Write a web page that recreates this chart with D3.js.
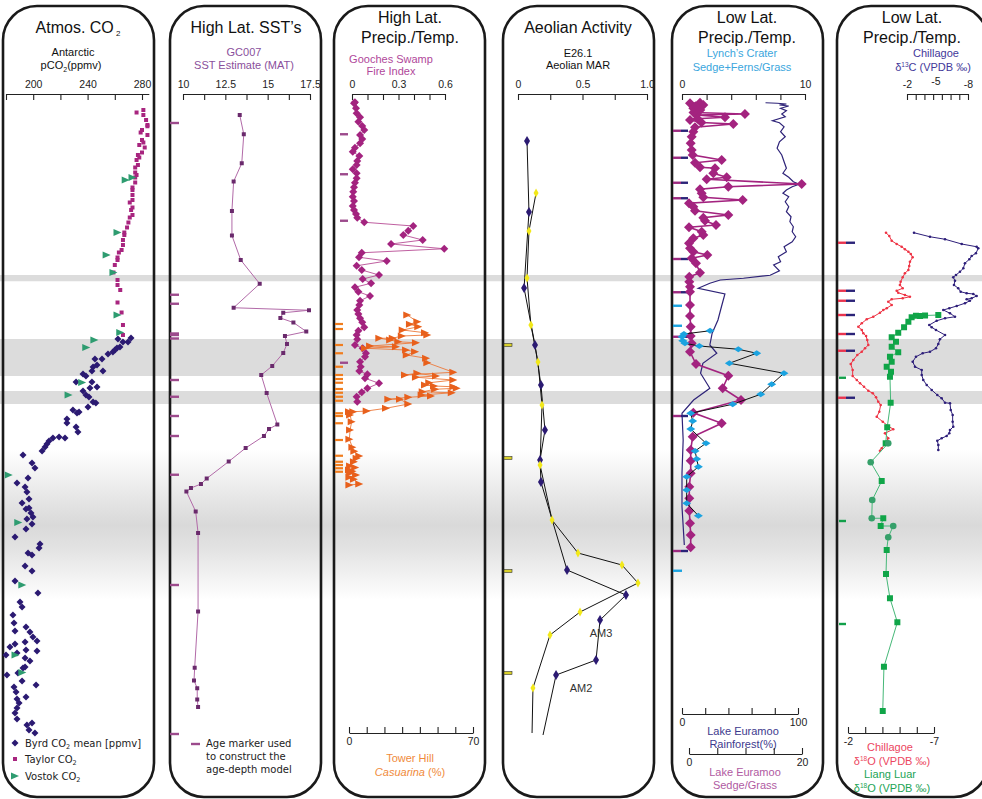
<!DOCTYPE html>
<html>
<head>
<meta charset="utf-8">
<script src="https://cdn.jsdelivr.net/npm/d3@7"></script>
<style>
body { margin: 0; background: #fff; }
svg { display: block; font-family: "Liberation Sans", Arial, sans-serif; }
.legend { font-family: "DejaVu Sans", Verdana, sans-serif; font-size: 10px; fill: #222; }
</style>
</head>
<body>
<svg id="chart" width="982" height="799"></svg>
<script>
// ages in ka, shared vertical axis
var grayBands = [[17.0, 17.25], [19.56, 21.04], [21.64, 22.16]];
var lgmBand = [24.0, 30.0];

// Atmos CO2 [ppmv, ka]
var taylorCO2 = [[276,10.5],[281,10.4],[281,10.6],[283,10.8],[284,11.0],[284,11.05],[280,11.2],[279,11.3],[284,11.4],[280,11.6],[281,11.7],[278,11.8],[282,11.9],[280,12.1],[277,12.2],[278,12.3],[276,12.4],[277,12.6],[275,12.7],[275,12.9],[276,13.0],[275,13.1],[275,13.3],[273,13.5],[273,13.6],[273,13.8],[273,14.0],[271,14.1],[273,14.3],[272,14.4],[273,14.6],[271,14.7],[270,14.9],[269,15.1],[267,15.3],[267,15.4],[266,15.6],[266,15.8],[265,16.0],[263,16.1],[262,16.3],[262,16.4],[260,16.6],[259,16.9],[262,17.2],[262,17.4],[264,17.6],[262,18.1],[265,18.5],[266,19.0],[266,19.4]];
var byrdCO2 = [[271.9,19.52],[269.7,19.68],[266.0,19.68],[263.8,19.88],[261.6,19.92],[260.1,20.0],[258.6,20.08],[255.0,20.16],[262.3,19.56],[250.6,20.36],[245.4,20.36],[246.9,20.6],[244.0,20.68],[251.3,20.84],[243.2,20.84],[236.6,20.96],[238.8,21.04],[231.5,21.28],[243.2,21.28],[246.9,21.48],[241.7,21.52],[236.6,21.64],[238.8,21.8],[241.0,21.88],[244.0,22.08],[246.1,22.12],[240.3,22.28],[229.2,22.4],[233.7,22.48],[232.2,22.52],[224.8,22.76],[224.8,22.92],[231.5,23.08],[232.9,23.28],[223.4,23.52],[219.0,23.48],[214.5,23.52],[211.6,23.64],[210.1,23.76],[208.7,23.88],[206.5,24.04],[192.5,24.2],[199.1,24.52],[201.3,24.72],[196.2,25.12],[188.1,25.32],[194.0,25.48],[195.4,25.68],[196.9,25.96],[191.8,26.12],[194.7,26.36],[196.9,26.32],[198.4,26.52],[199.8,26.68],[195.4,26.76],[199.1,26.96],[194.7,27.16],[186.6,27.48],[205.0,27.76],[204.3,27.92],[196.2,28.12],[199.1,28.2],[194.0,28.64],[199.1,28.84],[186.6,29.24],[203.5,29.72],[190.3,30.08],[191.8,30.28],[185.1,30.6],[185.9,30.92],[194.7,31.08],[186.6,31.24],[197.6,31.28],[199.8,31.48],[202.8,31.64],[194.0,31.68],[186.6,31.76],[182.9,31.88],[194.7,32.0],[202.8,32.04],[188.1,32.12],[180.0,32.2],[194.0,32.32],[197.6,32.44],[194.0,32.68],[192.5,32.72],[188.8,32.92],[180.7,33.0],[191.8,33.24],[202.1,33.4],[185.9,33.48],[187.4,33.68],[194.7,33.88],[188.1,33.96],[189.6,34.12],[188.1,34.32],[186.6,34.52],[188.1,34.76],[199.1,34.92],[195.4,35.0],[196.9,35.2],[201.3,35.32]];
var vostokCO2 = [[268,13.2],[273,13.1],[262,15.3],[254,16.2],[259,16.9],[262,18.6],[264,19.3],[245,19.6],[239,19.9],[236,21.3],[226,21.8],[182,25.0],[189,26.9],[192,29.4],[187,32.2],[192,32.9]];

// GC007 SST (MAT) [degC, ka]
var sstGC007 = [[13.35,10.6],[13.59,11.37],[13.47,12.53],[12.99,13.26],[12.89,14.44],[12.89,15.42],[13.41,16.4],[14.53,17.35],[12.99,18.31],[17.44,18.41],[15.92,18.51],[15.75,18.72],[16.52,18.9],[17.28,19.26],[16.02,19.44],[16.14,19.76],[15.92,20.12],[15.27,20.64],[14.62,21.0],[14.94,21.72],[15.57,22.98],[15.08,23.16],[14.78,23.44],[13.7,23.92],[12.7,24.46],[11.4,25.14],[11.06,25.36],[10.47,25.52],[10.2,25.66],[10.75,26.46],[10.89,27.32],[10.89,30.46],[10.69,32.71],[10.65,33.22],[10.84,33.53],[10.84,33.98],[10.89,34.28]];
var sstAgeMarkers = [10.92,17.79,18.15,19.34,19.4,19.54,21.2,21.87,22.64,23.44,24.99,29.4,35.36];

// Gooches Swamp fire index [index, ka]
var fireIndex = [[0.019,10.09],[0.013,10.13],[0.026,10.33],[0.03,10.53],[0.052,10.69],[0.041,10.87],[0.066,11.04],[0.079,11.2],[0.052,11.4],[0.066,11.56],[0.052,11.73],[0.019,11.91],[0.005,12.07],[0.047,12.24],[0.034,12.44],[0.03,12.6],[0.005,12.77],[0.03,12.93],[0.03,13.13],[0.019,13.31],[0.013,13.49],[0.008,13.67],[0.005,13.87],[0.013,14.04],[0.005,14.24],[0.013,14.4],[0.026,14.56],[0.034,14.71],[0.079,14.89],[0.395,15.04],[0.363,15.23],[0.331,15.4],[0.456,15.6],[0.252,15.76],[0.595,15.95],[0.063,16.11],[0.045,16.29],[0.224,16.44],[0.03,16.63],[0.063,16.8],[0.174,17.0],[0.069,17.16],[0.123,17.33],[0.019,17.49],[0.041,17.67],[0.116,17.84],[0.052,18.03],[0.047,18.2],[0.034,18.4],[0.041,18.56],[0.052,18.73],[0.066,18.89],[0.079,19.09],[0.041,19.23],[0.03,19.4],[0.034,19.57],[0.019,19.8],[0.069,19.93],[0.09,20.13],[0.084,20.27],[0.052,20.47],[0.056,20.67],[0.047,20.84],[0.099,20.97],[0.084,21.13],[0.174,21.33],[0.099,21.53],[0.063,21.69],[0.03,21.87],[0.034,22.07]];
var fireAgeMarkers = [11.37,12.97,14.83,20.51];

// Tower Hill Casuarina [%, ka]
var towerHill = [[32.9,18.6],[38.6,18.87],[34.4,18.97],[39.1,19.07],[30.3,19.2],[42.9,19.31],[44.2,19.4],[29.8,19.44],[24.7,19.53],[17.1,19.53],[23.2,19.6],[27.8,19.67],[37.8,19.71],[11.9,19.84],[26.5,19.87],[9.0,19.93],[32.2,20.0],[37.3,20.07],[32.6,20.2],[43.5,20.33],[44.2,20.51],[58.9,20.89],[31.6,21.0],[38.6,20.93],[49.1,21.04],[37.8,21.09],[58.9,21.2],[45.3,21.31],[42.9,21.4],[48.0,21.44],[58.9,21.47],[60.8,21.53],[48.6,21.57],[41.6,21.67],[58.0,21.71],[41.0,21.8],[46.3,21.84],[33.5,21.89],[22.2,21.97],[28.8,21.97],[33.5,22.16],[20.9,22.33],[10.0,22.44],[2.4,22.47],[0,22.47],[0.6,22.6],[1.5,22.87],[0.6,23.2],[0.2,23.57],[1.9,23.89],[3.0,24.05],[5.8,24.24],[4.3,24.33],[2.8,24.47],[0.6,24.64],[3.5,24.7],[0,24.8],[2.0,24.85],[0.6,24.93],[4.0,25.0],[0.2,25.09],[2.8,25.17],[5.8,25.36],[0.2,25.4]];
var towerAgeMarkers = [18.96,19.16,19.8,20.13,20.67,21.0,21.16,21.31,21.56,21.71,21.87,22.03,22.53,22.64,22.93,23.6,24.23,24.47,24.6,24.73,24.87];

// E26.1 aeolian MAR [g/cm2/ka, ka]
var aeolianNavy = [[0.07,11.64],[0.085,14.48],[0.047,17.52],[0.132,19.8],[0.178,21.4],[0.209,23.2],[0.171,24.4],[0.178,25.28],[0.38,28.8],[0.837,29.8],[0.636,30.8],[0.605,32.4],[0.295,33.0],[0.194,35.4]];
var aeolianYellow = [[0.14,13.72],[0.085,15.24],[0.07,17.12],[0.1,19.0],[0.155,20.48],[0.186,22.2],[0.171,24.6],[0.264,26.8],[0.465,28.12],[0.806,28.6],[0.93,29.32],[0.481,30.48],[0.248,31.4],[0.116,33.52],[0.109,35.32]];
var aeolianAgeMarkers = [19.8,24.32,28.84,32.92];

// Lynch's Crater and Lake Euramoo
var lynchSedge = [[2.28,19.23],[0.16,19.36],[0,19.47],[0.06,19.63],[0.24,19.73],[1.41,19.84],[4.58,19.97],[6.07,20.13],[3.85,20.53],[8.29,20.93],[7.29,21.37],[6.4,21.77],[4.12,22.17],[0.71,22.53],[0.87,22.84],[0.71,23.16],[1.95,23.73],[1.06,24.04],[1.2,24.36],[1.33,24.67],[0.38,25.07],[0.38,25.6],[0.38,26.13],[1.33,26.63]];
var euramooRain = [[72,10.11],[82,10.13],[90,10.16],[84,10.2],[92,10.24],[85,10.33],[90,10.43],[86,10.56],[89,10.67],[78,10.83],[84,10.91],[88,11.07],[85,11.27],[89,11.47],[84,11.67],[82,11.93],[86,12.2],[88,12.47],[90,12.73],[87,12.93],[92,13.09],[96,13.27],[101,13.37],[95,13.47],[90,13.6],[87,13.73],[92,13.87],[89,14.07],[92,14.27],[90,14.47],[94,14.67],[93,14.87],[96,15.07],[95,15.27],[98,15.47],[95,15.67],[88,15.87],[90,16.07],[83,16.27],[85,16.47],[79,16.6],[84,16.83],[76,17.01],[53,17.13],[33,17.2],[24,17.33],[14,17.53],[37,17.76],[34,18.27],[31,18.8],[26,19.33],[24,19.8],[30,20.13],[18,20.53],[16,20.93],[24,21.53],[10,22.0],[0,22.53],[1,23.6],[0,24.93],[0,26.27],[2,27.8]];
var euramooSedge = [[0.18,10.13],[1.95,10.11],[2.53,10.2],[1.2,10.25],[0.76,10.33],[2.0,10.4],[0.8,10.5],[9.9,10.56],[1.36,10.6],[6.37,10.69],[1.5,10.75],[0.18,10.8],[2.2,10.9],[7.84,10.96],[1.06,11.09],[0.76,11.27],[0.48,11.47],[0.3,11.73],[0.48,12.0],[0.65,12.2],[5.79,12.4],[1.06,12.51],[1.95,12.69],[4.6,12.73],[4.3,12.93],[6.67,13.09],[3.13,13.17],[19.95,13.36],[6.96,13.47],[1.95,13.57],[2.25,13.73],[2.53,13.89],[9.5,14.0],[0,14.13],[0.76,14.27],[1.06,14.43],[6.96,14.6],[2.53,14.71],[2.83,14.83],[4.78,15.0],[0,15.09],[2.25,15.27],[2.53,15.4],[0.76,15.53],[0,15.73],[0.18,15.93],[0.76,16.07],[3.24,16.2],[0.48,16.33],[1.24,16.53],[1.95,16.91],[0.05,17.07],[0.05,17.27],[0.18,17.47],[0.18,17.67],[0.18,18.2],[0.18,18.64],[0.3,19.07],[0.3,19.44],[0.48,19.73],[0.18,20.07],[1.24,20.56],[6.96,21.03],[5.96,21.53],[9.2,22.0],[0.76,22.51],[5.79,22.93],[0.65,23.47],[0.3,24.0],[0.3,24.43],[0.3,24.93],[0.05,25.47],[0.05,25.93],[0.05,26.43],[0.18,26.93],[0.3,27.4],[0.3,27.89]];
var euramooAgeMarkers = [11.23,12.31,13.31,13.93,16.36,17.69,19.47,22.64,28.04];
var lynchAgeMarkers = [18.23,19.03,28.83];

// Chillagoe and Liang Luar speleothems [permil VPDB, ka]
var chillD13C = [[-2.69,15.31],[-4.26,15.47],[-5.74,15.57],[-7.38,15.76],[-8.85,15.87],[-9.01,15.93],[-8.78,16.13],[-8.36,16.24],[-8.13,16.37],[-7.7,16.53],[-7.54,16.73],[-7.21,16.87],[-6.82,17.0],[-6.55,17.09],[-6.72,17.23],[-6.62,17.4],[-7.04,17.53],[-7.28,17.67],[-7.87,17.73],[-8.52,17.76],[-8.85,17.84],[-8.36,17.93],[-7.87,17.97],[-8.19,18.03],[-7.7,18.13],[-6.89,18.24],[-6.16,18.33],[-5.57,18.4],[-6.23,18.53],[-6.72,18.67],[-5.74,18.73],[-4.92,18.83],[-4.19,19.0],[-4.43,19.09],[-4.85,19.2],[-5.74,19.4],[-5.24,19.57],[-5.08,19.76],[-4.85,19.93],[-4.26,20.07],[-3.54,20.13],[-2.88,20.27],[-2.56,20.47],[-2.79,20.67],[-3.45,20.8],[-3.45,21.0],[-3.6,21.2],[-3.94,21.4],[-4.43,21.6],[-4.98,21.8],[-5.41,21.93],[-5.74,22.11],[-6.23,22.13],[-6.3,22.4],[-6.49,22.6],[-6.49,22.87],[-6.55,23.07],[-6.23,23.2],[-6.16,23.33],[-5.9,23.44],[-5.41,23.53],[-4.98,23.63],[-5.08,23.8],[-5.08,24.0]];
var chillD18O = [[-4.21,15.31],[-4.4,15.44],[-4.54,15.63],[-4.83,15.76],[-5.12,15.87],[-5.31,15.97],[-5.51,16.07],[-5.65,16.16],[-5.76,16.29],[-5.6,16.47],[-5.56,16.64],[-5.51,16.8],[-5.31,16.93],[-5.18,17.09],[-5.06,17.27],[-5.02,17.4],[-5.18,17.53],[-4.83,17.63],[-4.92,17.71],[-5.31,17.8],[-5.6,17.87],[-5.18,17.93],[-4.54,17.97],[-4.34,18.07],[-4.54,18.2],[-4.25,18.33],[-4.05,18.4],[-3.86,18.51],[-3.47,18.67],[-3.09,18.77],[-2.8,18.93],[-2.6,19.07],[-2.8,19.2],[-2.89,19.33],[-3.05,19.44],[-3.12,19.6],[-3.18,19.8],[-2.99,19.93],[-2.8,20.07],[-2.54,20.2],[-2.31,20.4],[-2.16,20.56],[-2.27,20.8],[-2.27,21.04],[-2.51,21.2],[-2.7,21.33],[-2.93,21.47],[-3.18,21.63],[-3.44,21.73],[-3.63,21.89],[-3.76,22.07],[-3.9,22.2],[-3.82,22.47],[-3.67,22.67],[-4.02,22.87],[-4.34,23.04],[-4.63,23.17],[-4.15,23.33],[-4.34,23.53],[-4.15,23.76],[-3.96,23.93],[-3.86,24.03]];
var liangLuar = [[-7.25,18.6,"s"],[-6.48,18.62,"s"],[-6.19,18.64,"s"],[-5.95,18.63,"s"],[-5.7,18.69,"s"],[-5.51,18.87,"s"],[-5.26,19.09,"s"],[-4.92,19.31,"s"],[-4.54,19.49,"s"],[-4.79,19.67,"s"],[-4.54,19.87,"s"],[-4.92,20.09,"s"],[-4.44,20.27,"s"],[-4.54,20.47,"s"],[-4.25,20.67,"s"],[-4.5,20.87,"s"],[-4.44,21.07,"s"],[-4.48,22.11,"s"],[-4.28,23.09,"s"],[-4.19,23.73,"s"],[-4.34,23.73,"c"],[-3.32,24.49,"c"],[-3.96,25.24,"s"],[-3.41,26.0,"c"],[-3.38,26.73,"c"],[-4.05,26.73,"s"],[-3.9,27.04,"s"],[-4.63,27.04,"c"],[-4.34,27.49,"c"],[-4.25,28.0,"s"],[-4.21,28.96,"s"],[-4.44,29.93,"s"],[-4.87,30.89,"s"],[-4.09,32.67,"s"],[-4.02,34.44,"s"]];
var chillAgeMarkers = [15.71,17.63,18.03,18.6,19.36,20.03,21.91];
var liangAgeMarkers = [21.11,26.84,30.96];

var svg = d3.select("#chart");
var y = d3.scaleLinear().domain([10, 36]).range([100, 750]);

// ---- background bands
var grad = svg.append("defs").append("linearGradient")
    .attr("id", "lgm").attr("x1", 0).attr("x2", 0).attr("y1", 0).attr("y2", 1);
grad.selectAll("stop")
    .data([[0, "#ffffff"], [0.35, "#e4e4e4"], [0.5, "#d9d9d9"], [0.65, "#e2e2e2"], [1, "#ffffff"]])
    .join("stop").attr("offset", function(d) { return d[0]; }).attr("stop-color", function(d) { return d[1]; });

svg.append("rect").attr("x", 0).attr("width", 982)
    .attr("y", y(lgmBand[0])).attr("height", y(lgmBand[1]) - y(lgmBand[0]))
    .attr("fill", "url(#lgm)");
svg.selectAll("rect.band").data(grayBands).join("rect").attr("class", "band")
    .attr("x", 0).attr("width", 982)
    .attr("y", function(d) { return y(d[0]); })
    .attr("height", function(d) { return y(d[1]) - y(d[0]); })
    .attr("fill", "#dcdcdc");

// ---- panel frames
var panelLeft = [3, 170, 334, 503, 672, 837];
svg.selectAll("rect.panel").data(panelLeft).join("rect").attr("class", "panel")
    .attr("x", function(d) { return d; }).attr("y", 6)
    .attr("width", 151).attr("height", 791).attr("rx", 34)
    .attr("fill", "none").attr("stroke", "#1a1a1a").attr("stroke-width", 2.6);

// ---- helpers
function diamond(w, h) { return "M0," + (-h / 2) + "L" + (w / 2) + ",0L0," + (h / 2) + "L" + (-w / 2) + ",0Z"; }
function square(s) { return "M" + (-s / 2) + "," + (-s / 2) + "h" + s + "v" + s + "h" + (-s) + "Z"; }
function triRight(w, h) { return "M" + (-w / 2) + "," + (-h / 2) + "L" + (w / 2) + ",0L" + (-w / 2) + "," + (h / 2) + "Z"; }
function dot(r) { return d3.symbol(d3.symbolCircle, Math.PI * r * r)(); }

function drawLine(data, xs, color, width, opacity) {
  svg.append("path").datum(data)
      .attr("fill", "none").attr("stroke", color).attr("stroke-width", width)
      .attr("stroke-opacity", opacity == null ? 1 : opacity)
      .attr("d", d3.line().x(function(d) { return xs(d[0]); }).y(function(d) { return y(d[1]); }));
}
function drawMarks(data, xs, shape, fill, stroke) {
  svg.append("g").selectAll("path").data(data).join("path")
      .attr("transform", function(d) { return "translate(" + xs(d[0]) + "," + y(d[1]) + ")"; })
      .attr("d", shape).attr("fill", fill)
      .attr("stroke", stroke || "none").attr("stroke-width", stroke ? 0.6 : 0);
}
function ageTicks(ages, x0, x1, color, width) {
  svg.append("g").selectAll("line").data(ages).join("line")
      .attr("x1", x0).attr("x2", x1)
      .attr("y1", function(d) { return y(d); }).attr("y2", function(d) { return y(d); })
      .attr("stroke", color).attr("stroke-width", width || 2.4);
}
function text(x, yy, str, size, color, anchor) {
  return svg.append("text").attr("x", x).attr("y", yy).text(str)
      .attr("font-size", size).attr("fill", color || "#111")
      .attr("text-anchor", anchor || "middle");
}
function styleAxis(g) {
  g.attr("font-family", "Liberation Sans, Arial, sans-serif").attr("font-size", 10.5);
  g.selectAll("path.domain").attr("stroke", "#222").attr("stroke-width", 1.2);
  g.selectAll(".tick line").attr("stroke", "#222").attr("stroke-width", 1.1);
  g.selectAll(".tick text").attr("fill", "#222");
}
function topAxis(scale, ticks, labelled) {
  var g = svg.append("g").attr("transform", "translate(0,94)")
      .call(d3.axisTop(scale).tickValues(ticks).tickSize(-6).tickSizeOuter(0).tickPadding(6)
        .tickFormat(function(d) { return labelled.indexOf(d) >= 0 ? String(d) : ""; }));
  styleAxis(g);
  return g;
}
function bottomAxis(scale, yy, ticks, labelled) {
  var g = svg.append("g").attr("transform", "translate(0," + yy + ")")
      .call(d3.axisBottom(scale).tickValues(ticks).tickSize(-6).tickSizeOuter(0).tickPadding(5)
        .tickFormat(function(d) { return labelled.indexOf(d) >= 0 ? String(d) : ""; }));
  styleAxis(g);
  return g;
}

// ---- scales
var co2X = d3.scaleLinear().domain([180, 285]).range([6, 148.8]);
var sstX = d3.scaleLinear().domain([10, 17.5]).range([183, 310]);
var fireX = d3.scaleLinear().domain([0, 0.6]).range([352, 445]);
var towerX = d3.scaleLinear().domain([0, 70]).range([349, 473]);
var aeolX = d3.scaleLinear().domain([0, 1]).range([518, 647]);
var lynchX = d3.scaleLinear().domain([0, 10]).range([682, 805]);
var rainX = d3.scaleLinear().domain([0, 100]).range([682, 798]);
var sedgeX = d3.scaleLinear().domain([0, 20]).range([689, 802]);
var d13X = d3.scaleLinear().domain([-2, -8]).range([907, 968]);
var d18X = d3.scaleLinear().domain([-2, -7]).range([848, 934]);

// ---- titles
var t1 = text(78, 33, "Atmos. CO", 16);
t1.append("tspan").text(" 2").attr("font-size", 8).attr("dy", 3);
text(246, 33, "High Lat.  SST\u2019s", 16);
text(410, 23, "High Lat.", 16);
text(410, 43, "Precip./Temp.", 16);
text(578, 33, "Aeolian Activity", 16);
text(747, 23, "Low Lat.", 16);
text(747, 43, "Precip./Temp.", 16);
text(912, 23, "Low Lat.", 16);
text(912, 43, "Precip./Temp.", 16);

text(73, 56, "Antarctic", 11);
var s1 = text(71, 69, "pCO", 11);
s1.append("tspan").text("2").attr("font-size", 7).attr("dy", 3);
s1.append("tspan").text("(ppmv)").attr("dy", -3);
text(244, 56, "GC007", 11, "#8a4f9c");
text(244, 69, "SST Estimate (MAT)", 11, "#8a4f9c");
text(391, 63, "Gooches Swamp", 11, "#b0479a");
text(391, 75, "Fire Index", 11, "#b0479a");
text(578, 57, "E26.1", 11);
text(578, 69, "Aeolian MAR", 11);
text(742, 57, "Lynch\u2019s Crater", 11, "#3aa6dd");
text(742, 71, "Sedge+Ferns/Grass", 11, "#3aa6dd");
text(936, 57, "Chillagoe", 11, "#43389a");
var s6 = text(933, 71, "\u03b4", 11, "#43389a");
s6.append("tspan").text("13").attr("font-size", 6.5).attr("dy", -4);
s6.append("tspan").text("C (VPDB \u2030)").attr("dy", 4);

// ---- axes
topAxis(co2X, [180, 200, 220, 240, 260, 280], [200, 240, 280]);
topAxis(sstX, [10, 11.25, 12.5, 13.75, 15, 16.25, 17.5], [10, 12.5, 15, 17.5]);
topAxis(fireX, [0, 0.1, 0.2, 0.3, 0.4, 0.5, 0.6], [0, 0.3, 0.6]);
topAxis(aeolX, [0, 0.25, 0.5, 0.75, 1], [0, 0.5, 1]).selectAll(".tick text")
    .text(function(d) { return d === 0 ? "0" : d === 0.5 ? "0.5" : d === 1 ? "1.0" : ""; });
topAxis(lynchX, [0, 2, 4, 6, 8, 10], [0, 10]);
topAxis(d13X, d3.range(8).map(function(i) { return -2 - i * 6 / 7; }), [-2, -5, -8]).selectAll(".tick text")
    .text(function(d, i) { return i === 0 ? "-2" : i === 7 ? "-8" : ""; });
text(936, 85, "-5", 10.5, "#222");

bottomAxis(towerX, 733, [0, 10, 20, 30, 40, 50, 60, 70], [0, 70]);
text(410, 762, "Tower Hill", 11, "#f08a3a");
var th = text(410, 776, "", 11, "#f08a3a");
th.append("tspan").text("Casuarina").attr("font-style", "italic");
th.append("tspan").text("  (%)");

bottomAxis(rainX, 714, [0, 20, 40, 60, 80, 100], [0, 100]);
text(743, 735, "Lake Euramoo", 11, "#3d3a8e");
text(743, 748, "Rainforest(%)", 11, "#3d3a8e");
bottomAxis(sedgeX, 754, [0, 5, 10, 15, 20], [0, 20]);
text(745, 776, "Lake Euramoo", 11, "#b05aa2");
text(745, 789, "Sedge/Grass", 11, "#b05aa2");

bottomAxis(d18X, 733, [-2, -3, -4, -5, -6, -7], [-2, -7]);
text(890, 751, "Chillagoe", 11, "#ec4660");
var c18 = text(892, 765, "\u03b4", 11, "#ec4660");
c18.append("tspan").text("18").attr("font-size", 6.5).attr("dy", -4);
c18.append("tspan").text("O   (VPDB \u2030)").attr("dy", 4);
text(890, 778, "Liang Luar", 11, "#22a455");
var l18 = text(892, 792, "\u03b4", 11, "#22a455");
l18.append("tspan").text("18").attr("font-size", 6.5).attr("dy", -4);
l18.append("tspan").text("O   (VPDB \u2030)").attr("dy", 4);

// ---- panel 1: CO2
drawMarks(taylorCO2, co2X, square(4), "#a8257f");
drawMarks(byrdCO2, co2X, diamond(7, 7), "#2b1a72");
drawMarks(vostokCO2, co2X, triRight(8, 7), "#2e9c70");

svg.append("path").attr("transform", "translate(15,743)").attr("d", diamond(7, 7)).attr("fill", "#2b1a72");
svg.append("path").attr("transform", "translate(15,759)").attr("d", square(4)).attr("fill", "#a8257f");
svg.append("path").attr("transform", "translate(15,776)").attr("d", triRight(8, 7)).attr("fill", "#2e9c70");
[["Byrd CO", " mean [ppmv]", 747], ["Taylor CO", "", 763], ["Vostok CO", "", 780]].forEach(function(l) {
  var t = svg.append("text").attr("class", "legend").attr("x", 25).attr("y", l[2]).text(l[0]);
  t.append("tspan").text("2").attr("font-size", 6.5).attr("dy", 2);
  if (l[1]) t.append("tspan").text(l[1]).attr("dy", -2);
});

// ---- panel 2: SST
ageTicks(sstAgeMarkers, 170, 179, "#9c4a8c");
drawLine(sstGC007, sstX, "#b26aa8", 1);
drawMarks(sstGC007, sstX, square(4), "#6a2a6c");
svg.append("line").attr("x1", 191).attr("x2", 200).attr("y1", 744).attr("y2", 744)
    .attr("stroke", "#9c4a8c").attr("stroke-width", 2.4);
["Age marker used", "to construct the", "age-depth model"].forEach(function(s, i) {
  svg.append("text").attr("class", "legend").attr("x", 206).attr("y", 747 + i * 13).text(s);
});

// ---- panel 3: fire + Tower Hill
ageTicks(fireAgeMarkers, 340, 348, "#9c4a8c");
ageTicks(towerAgeMarkers, 335, 343, "#f07d1e", 2.2);
drawLine(fireIndex, fireX, "#b4438f", 1, 0.85);
drawMarks(fireIndex, fireX, diamond(8, 8), "#a3237f");
drawLine(towerHill, towerX, "#ec7a3c", 1, 0.9);
drawMarks(towerHill, towerX, triRight(8, 7), "#e8601c");

// ---- panel 4: aeolian
svg.append("g").selectAll("rect").data(aeolianAgeMarkers).join("rect")
    .attr("x", 504).attr("width", 8).attr("y", function(d) { return y(d) - 1.5; }).attr("height", 3)
    .attr("fill", "#d8cf2a").attr("stroke", "#333").attr("stroke-width", 0.6);
drawLine(aeolianNavy, aeolX, "#111", 1);
drawLine(aeolianYellow, aeolX, "#111", 1);
drawMarks(aeolianNavy.slice(0, -1), aeolX, diamond(6, 10), "#2b1a72");
drawMarks(aeolianYellow.slice(0, -1), aeolX, diamond(5, 9), "#f2e81a");
text(601, 637, "AM3", 11, "#333");
text(581, 692, "AM2", 11, "#333");

// ---- panel 5: Lynch's crater / Lake Euramoo
euramooAgeMarkers.forEach(function(a) {
  ageTicks([a], 673, 681, "#9c2a80");
  ageTicks([a], 681, 688, "#2b2378");
});
ageTicks(lynchAgeMarkers, 673, 682, "#1ba3e0");
drawLine(euramooRain, rainX, "#2e2378", 1.2);
drawLine(euramooSedge, sedgeX, "#a3237f", 1.6);
drawMarks(euramooSedge, sedgeX, diamond(10, 10), "#a3237f");
drawLine(lynchSedge, lynchX, "#111", 1);
drawMarks(lynchSedge, lynchX, diamond(9, 6), "#1ba3e0");

// ---- panel 6: speleothems
chillAgeMarkers.forEach(function(a) {
  ageTicks([a], 838, 846, "#e8344e");
  ageTicks([a], 846, 855, "#2b2378");
});
ageTicks(liangAgeMarkers, 839, 846, "#12a04a");
drawLine(chillD13C, d13X, "#2e1f7a", 1);
drawMarks(chillD13C, d13X, dot(1.3), "#2e1f7a");
drawLine(chillD18O, d18X, "#ee3344", 1);
drawMarks(chillD18O, d18X, dot(1.3), "#ee3344");
drawLine(liangLuar, d18X, "#46b878", 1);
drawMarks(liangLuar.filter(function(d) { return d[2] === "s"; }), d18X, square(6), "#10a548");
drawMarks(liangLuar.filter(function(d) { return d[2] === "c"; }), d18X, dot(3.3), "#36a06a");
</script>
</body>
</html>
